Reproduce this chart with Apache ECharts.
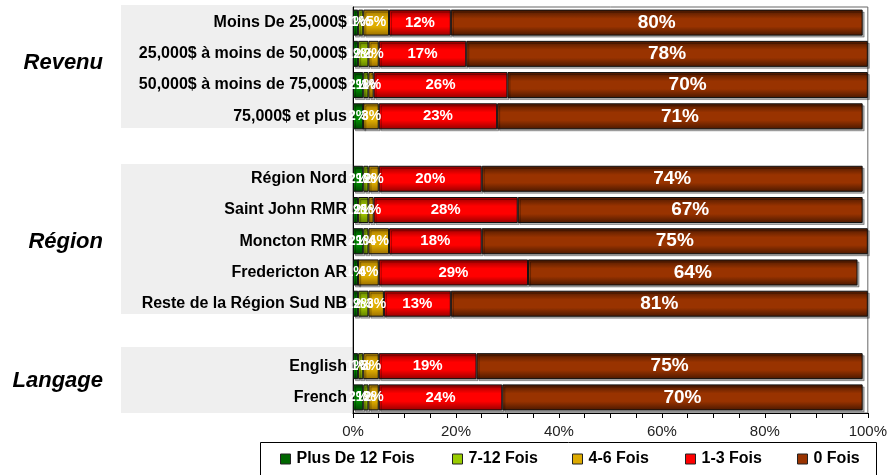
<!DOCTYPE html>
<html>
<head>
<meta charset="utf-8">
<script src="https://cdn.jsdelivr.net/npm/echarts@6/dist/echarts.min.js"></script>
<style>
html,body{margin:0;padding:0;background:#fff;}
#chart{width:890px;height:475px;}
</style>
</head>
<body>
<div id="chart"></div>
<script type="text/javascript">
    // categories (blank slots are the gaps between groups)
    var categories = ['Moins De 25,000$', '25,000$ à moins de 50,000$', '50,000$ à moins de 75,000$', '75,000$ et plus', ' ',
        'Région Nord', 'Saint John RMR', 'Moncton RMR', 'Fredericton AR', 'Reste de la Région Sud NB', '  ',
        'English', 'French'];
    var seriesNames = ['Plus De 12 Fois', '7-12 Fois', '4-6 Fois', '1-3 Fois', '0 Fois'];
    var plus12 = [1, 1, 2, 2, null, 2, 1, 2, 1, 1, null, 1, 2];
    var fois7_12 = [1, 2, 1, 0, null, 1, 2, 1, 0, 2, null, 1, 1];
    var fois4_6 = [5, 2, 1, 3, null, 2, 1, 4, 4, 3, null, 3, 2];
    var fois1_3 = [12, 17, 26, 23, null, 20, 28, 18, 29, 13, null, 19, 24];
    var fois0 = [80, 78, 70, 71, null, 74, 67, 75, 64, 81, null, 75, 70];
    var groups = ['Revenu', 'Région', 'Langage'];
    var xTicks = [0, 20, 40, 60, 80, 100];

    var FONT = "'Liberation Sans', Arial, sans-serif";
    // [dark edge, bright middle, legend colour]
    var palette = [
        ['#004400', '#008a00', '#006600'],
        ['#5f8000', '#a0c400', '#99cc00'],
        ['#9a6e00', '#e0ae00', '#ddaa00'],
        ['#950000', '#ff0000', '#ff0000'],
        ['#4a1800', '#993300', '#993300']
    ];
    var labelSizes = [14, 14, 14, 15, 19];

    function grad(c){
        return new echarts.graphic.LinearGradient(0, 0, 0, 1, [
            {offset: 0, color: c[0]},
            {offset: 0.35, color: c[1]},
            {offset: 0.65, color: c[1]},
            {offset: 1, color: c[0]}
        ]);
    }

    var dataSets = [plus12, fois7_12, fois4_6, fois1_3, fois0];
    var series = [];
    for(var i = 0; i < dataSets.length; i ++){
        series.push({
            name: seriesNames[i],
            type: 'bar',
            stack: 'total',
            barWidth: 26,
            data: dataSets[i],
            itemStyle: {
                color: grad(palette[i]),
                borderColor: '#111',
                borderWidth: 1,
                shadowColor: 'rgba(0,0,0,0.3)',
                shadowOffsetX: 2,
                shadowOffsetY: 2
            },
            label: {
                show: true,
                position: 'inside',
                color: '#fff',
                fontWeight: 'bold',
                fontFamily: FONT,
                fontSize: labelSizes[i],
                formatter: function(p){ return p.value ? p.value + '%' : ''; }
            }
        });
    }

    // one legend per item so each sits where it sits in the picture
    var legendLeft = [280, 452, 572, 685, 797];
    var legends = [];
    for(var j = 0; j < seriesNames.length; j ++){
        legends.push({
            data: [{name: seriesNames[j], itemStyle: {color: palette[j][2], borderColor: '#222', borderWidth: 1}}],
            left: legendLeft[j],
            top: 451,
            padding: 0,
            icon: 'rect',
            itemWidth: 10,
            itemHeight: 10,
            itemGap: 0,
            selectedMode: false,
            textStyle: {fontFamily: FONT, fontWeight: 'bold', fontSize: 16, color: '#000', padding: [0, 0, 0, 1]}
        });
    }

    // group panels / titles
    var panels = [[5, 128], [164, 314], [347, 413]];
    var titleY = [63, 242, 381];
    var graphics = [];
    for(var k = 0; k < groups.length; k ++){
        graphics.push({
            type: 'rect', z: -10, silent: true,
            shape: {x: 121, y: panels[k][0], width: 232, height: panels[k][1] - panels[k][0]},
            style: {fill: '#efefef'}
        });
        graphics.push({
            type: 'text', silent: true,
            x: 103, y: titleY[k],
            style: {text: groups[k], align: 'right', verticalAlign: 'middle', fill: '#000',
                font: 'italic bold 22px ' + FONT}
        });
    }
    graphics.push({
        type: 'rect', silent: true, z: -5,
        shape: {x: 260.5, y: 442.5, width: 616, height: 40},
        style: {fill: '#fff', stroke: '#000', lineWidth: 1}
    });

    var myChart = echarts.init(document.getElementById('chart'));
    var option = {
        animation: false,
        backgroundColor: '#fff',
        grid: {left: 353, right: 22, top: 7, bottom: 62, show: true, borderColor: '#666', borderWidth: 1},
        xAxis: {
            type: 'value', min: 0, max: 100, interval: 5,
            axisLine: {show: true, lineStyle: {color: '#000'}},
            axisTick: {show: true, length: 5, lineStyle: {color: '#000'}},
            splitLine: {show: false},
            axisLabel: {
                margin: 11, color: '#222', fontFamily: FONT, fontSize: 15,
                formatter: function(v){ return xTicks.indexOf(v) > -1 ? v + '%' : ''; }
            }
        },
        yAxis: {
            type: 'category', inverse: true, data: categories,
            axisLine: {show: true, lineStyle: {color: '#000'}},
            axisTick: {show: false},
            axisLabel: {margin: 6, color: '#000', fontFamily: FONT, fontWeight: 'bold', fontSize: 16}
        },
        legend: legends,
        graphic: graphics,
        series: series
    };
    myChart.setOption(option);
</script>
</body>
</html>
